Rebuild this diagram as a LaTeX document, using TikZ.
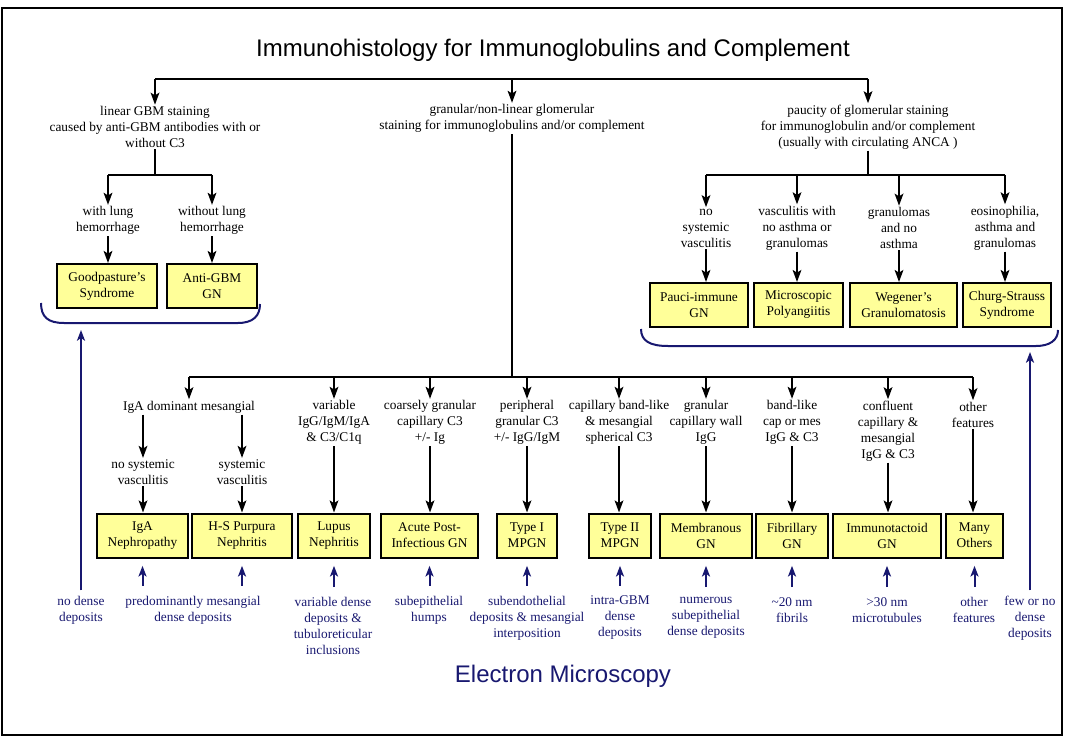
\documentclass[tikz,border=0pt]{standalone}
\usepackage{fontspec}
\setmainfont{Liberation Serif}
\setsansfont{Liberation Sans}
\usetikzlibrary{arrows.meta, positioning}

\definecolor{dxyellow}{RGB}{255, 255, 153}
\definecolor{emnavy}{RGB}{24, 24, 112}

\begin{document}
\begin{tikzpicture}[
        x=0.75pt, y=-0.75pt,
        font=\fontsize{10}{12}\selectfont,
        lbl/.style={align=center, inner sep=1pt},
        emlbl/.style={align=center, inner sep=1pt, text=emnavy},
        dxbox/.style={draw, fill=dxyellow, line width=1.5pt, align=center, minimum height=33pt, inner sep=1pt},
        heading/.style={font=\sffamily\fontsize{18}{21}\selectfont},
        link/.style={line width=1.5pt},
        arrow/.style={-{Stealth[length=9pt, width=6.5pt, inset=2pt]}, line width=1.5pt},
        emarrow/.style={-{Stealth[length=8pt, width=6pt, inset=2pt]}, line width=1.5pt, draw=emnavy, shorten <=6.5pt, shorten >=5.5pt},
        emlong/.style={-{Stealth[length=8pt, width=6pt, inset=2pt]}, line width=1.5pt, draw=emnavy, shorten <=3pt},
        brace/.style={line width=1.5pt, draw=emnavy}
    ]
        \useasboundingbox (0,0) rectangle (1066,741);
        \draw[line width=2pt] (2,8) rectangle (1062,735);

        % Titles
        \node[heading] (ihc) at (553,50) {Immunohistology for Immunoglobulins and Complement};
        \node[heading, text=emnavy] (em) at (563,676) {Electron Microscopy};

        % Immunohistology patterns
        \node[lbl] (lin) at (155,127) {linear GBM staining\\caused by anti-GBM antibodies with or\\without C3};
        \node[lbl] (gran) at (512,118.5) {granular/non-linear glomerular\\staining for immunoglobulins and/or complement};
        \node[lbl] (pauc) at (868,127) {paucity of glomerular staining\\for immunoglobulin and/or complement\\(usually with circulating ANCA )};

        % Anti-GBM side
        \node[lbl] (wl) at (108,220.5) {with lung\\hemorrhage};
        \node[lbl] (wol) at (212,220.5) {without lung\\hemorrhage};
        \node[dxbox, minimum width=75pt] (gp) at (107,286) {Goodpasture's\\Syndrome};
        \node[dxbox, minimum width=67.5pt] (agbm) at (212,286) {Anti-GBM\\GN};

        % Pauci-immune side
        \node[lbl] (nsys) at (706,228) {no\\systemic\\vasculitis};
        \node[lbl] (vnag) at (797,228) {vasculitis with\\no asthma or\\granulomas};
        \node[lbl] (gna) at (899,228) {granulomas\\and no\\asthma};
        \node[lbl] (eag) at (1005,228) {eosinophilia,\\asthma and\\granulomas};
        \node[dxbox, minimum width=73.5pt] (pigr) at (699,305) {Pauci-immune\\GN};
        \node[dxbox, minimum width=66.75pt] (mpa) at (798.5,305) {Microscopic\\Polyangiitis};
        \node[dxbox, minimum width=80.25pt] (wg) at (903.5,305) {Wegener's\\Granulomatosis};
        \node[dxbox, minimum width=66pt] (css) at (1007,305) {Churg-Strauss\\Syndrome};

        % Immune complex side
        \node[lbl] (iga) at (189,407) {IgA dominant mesangial};
        \node[lbl] (nsv) at (143,472) {no systemic\\vasculitis};
        \node[lbl] (sv) at (242,472) {systemic\\vasculitis};
        \node[lbl] (var) at (334,422.5) {variable\\IgG/IgM/IgA\\\& C3/C1q};
        \node[lbl] (coarse) at (430,422.5) {coarsely granular\\capillary C3\\+/- Ig};
        \node[lbl] (peri) at (527,422.5) {peripheral\\granular C3\\+/- IgG/IgM};
        \node[lbl] (band) at (619,422.5) {capillary band-like\\\& mesangial\\spherical C3};
        \node[lbl] (gcw) at (706,422.5) {granular\\capillary wall\\IgG};
        \node[lbl] (blk) at (792,422.5) {band-like\\cap or mes\\IgG \& C3};
        \node[lbl] (conf) at (888,431) {confluent\\capillary \&\\mesangial\\IgG \& C3};
        \node[lbl] (oth) at (973,414.5) {other\\features};

        \node[dxbox, minimum width=68.25pt] (iganep) at (142.5,535.5) {IgA\\Nephropathy};
        \node[dxbox, minimum width=75pt] (hsp) at (242,535.5) {H-S Purpura\\Nephritis};
        \node[dxbox, minimum width=54pt] (lupus) at (334,535.5) {Lupus\\Nephritis};
        \node[dxbox, minimum width=72.75pt] (apign) at (429.5,535.5) {Acute Post-\\Infectious GN};
        \node[dxbox, minimum width=45pt] (mpgn1) at (527,535.5) {Type I\\MPGN};
        \node[dxbox, minimum width=46.5pt] (mpgn2) at (620,535.5) {Type II\\MPGN};
        \node[dxbox, minimum width=69pt] (memb) at (706,535.5) {Membranous\\GN};
        \node[dxbox, minimum width=54pt] (fib) at (792,535.5) {Fibrillary\\GN};
        \node[dxbox, minimum width=81pt] (immt) at (887,535.5) {Immunotactoid\\GN};
        \node[dxbox, minimum width=42.75pt] (many) at (974.5,535.5) {Many\\Others};

        % Electron microscopy findings
        \node[emlbl] (nodense) at (81,610) {no dense\\deposits};
        \node[emlbl] (pred) at (193,610) {predominantly mesangial\\dense deposits};
        \node[emlbl] (vdd) at (333,626) {variable dense\\deposits \&\\tubuloreticular\\inclusions};
        \node[emlbl] (humps) at (429,610) {subepithelial\\humps};
        \node[emlbl] (subendo) at (527,618) {subendothelial\\deposits \& mesangial\\interposition};
        \node[emlbl] (intra) at (620,618) {intra-GBM\\dense\\deposits};
        \node[emlbl] (numer) at (706,618) {numerous\\subepithelial\\dense deposits};
        \node[emlbl] (fibrils) at (792,610) {\textasciitilde20 nm\\fibrils};
        \node[emlbl] (tubules) at (887,610) {>30 nm\\microtubules};
        \node[emlbl] (othf) at (974,610) {other\\features};
        \node[emlbl] (fewno) at (1030,618) {few or no\\dense\\deposits};

        % Top level arrows
        \coordinate (topbar) at (512,79);
        \draw[link] (lin.north |- topbar) -- (pauc.north |- topbar);
        \draw[arrow] (lin.north |- topbar) -- (lin.north);
        \draw[arrow] (gran.north |- topbar) -- (gran.north);
        \draw[arrow] (pauc.north |- topbar) -- (pauc.north);

        % Anti-GBM arrows
        \coordinate (lbar) at (155,175);
        \draw[link] (lin.south) -- (lin.south |- lbar);
        \draw[link] (wl.north |- lbar) -- (wol.north |- lbar);
        \draw[arrow] (wl.north |- lbar) -- (wl.north);
        \draw[arrow] (wol.north |- lbar) -- (wol.north);
        \draw[arrow] (wl.south) -- (wl.south |- gp.north);
        \draw[arrow] (wol.south) -- (wol.south |- agbm.north);

        % Pauci-immune arrows
        \coordinate (rbar) at (868,175);
        \draw[link] (pauc.south) -- (pauc.south |- rbar);
        \draw[link] (nsys.north |- rbar) -- (eag.north |- rbar);
        \draw[arrow] (nsys.north |- rbar) -- (nsys.north);
        \draw[arrow] (vnag.north |- rbar) -- (vnag.north);
        \draw[arrow] (gna.north |- rbar) -- (gna.north);
        \draw[arrow] (eag.north |- rbar) -- (eag.north);
        \draw[arrow] (nsys.south) -- (nsys.south |- pigr.north);
        \draw[arrow] (vnag.south) -- (vnag.south |- mpa.north);
        \draw[arrow] (gna.south) -- (gna.south |- wg.north);
        \draw[arrow] (eag.south) -- (eag.south |- css.north);

        % Immune complex arrows
        \coordinate (mbar) at (512,377);
        \draw[link] (gran.south) -- (gran.south |- mbar);
        \draw[link] (iga.north |- mbar) -- (oth.north |- mbar);
        \draw[arrow] (iga.north |- mbar) -- (iga.north);
        \draw[arrow] (var.north |- mbar) -- (var.north);
        \draw[arrow] (coarse.north |- mbar) -- (coarse.north);
        \draw[arrow] (peri.north |- mbar) -- (peri.north);
        \draw[arrow] (band.north |- mbar) -- (band.north);
        \draw[arrow] (gcw.north |- mbar) -- (gcw.north);
        \draw[arrow] (blk.north |- mbar) -- (blk.north);
        \draw[arrow] (conf.north |- mbar) -- (conf.north);
        \draw[arrow] (oth.north |- mbar) -- (oth.north);
        \draw[arrow] (iga.south -| nsv.north) -- (nsv.north);
        \draw[arrow] (iga.south -| sv.north) -- (sv.north);
        \draw[arrow] (nsv.south) -- (nsv.south |- iganep.north);
        \draw[arrow] (sv.south) -- (sv.south |- hsp.north);
        \draw[arrow] (var.south) -- (var.south |- lupus.north);
        \draw[arrow] (coarse.south) -- (coarse.south |- apign.north);
        \draw[arrow] (peri.south) -- (peri.south |- mpgn1.north);
        \draw[arrow] (band.south) -- (band.south |- mpgn2.north);
        \draw[arrow] (gcw.south) -- (gcw.south |- memb.north);
        \draw[arrow] (blk.south) -- (blk.south |- fib.north);
        \draw[arrow] (conf.south) -- (conf.south |- immt.north);
        \draw[arrow] (oth.south) -- (oth.south |- many.north);

        % EM braces
        \coordinate (lbrace) at (81,330);
        \coordinate (rbrace) at (1030,352);
        \draw[brace] (41,303) .. controls (41,317) and (48,323) .. (64,323) -- (238,323) .. controls (253,323) and (260,316) .. (260,304);
        \draw[brace] (641,329) .. controls (641,341) and (650,346) .. (668,346) -- (1036,346) .. controls (1050,346) and (1058,340) .. (1058,330);

        % EM arrows
        \draw[emlong] (nodense.north) -- (nodense.north |- lbrace);
        \draw[emlong] (fewno.north) -- (fewno.north |- rbrace);
        \draw[emarrow] (pred.north -| iganep.south) -- (iganep.south);
        \draw[emarrow] (pred.north -| hsp.south) -- (hsp.south);
        \draw[emarrow] (vdd.north -| lupus.south) -- (lupus.south);
        \draw[emarrow] (humps.north -| apign.south) -- (apign.south);
        \draw[emarrow] (subendo.north -| mpgn1.south) -- (mpgn1.south);
        \draw[emarrow] (intra.north -| mpgn2.south) -- (mpgn2.south);
        \draw[emarrow] (numer.north -| memb.south) -- (memb.south);
        \draw[emarrow] (fibrils.north -| fib.south) -- (fib.south);
        \draw[emarrow] (tubules.north -| immt.south) -- (immt.south);
        \draw[emarrow] (othf.north -| many.south) -- (many.south);
    \end{tikzpicture}
\end{document}
